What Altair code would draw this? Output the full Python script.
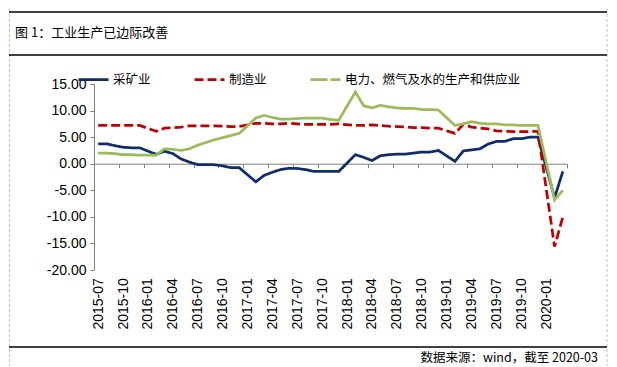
import altair as alt
import pandas as pd

# ---------------- data ----------------
months = [
    "2015-07", "2015-08", "2015-09", "2015-10", "2015-11", "2015-12",
    "2016-01", "2016-02", "2016-03", "2016-04", "2016-05", "2016-06",
    "2016-07", "2016-08", "2016-09", "2016-10", "2016-11", "2016-12",
    "2017-01", "2017-02", "2017-03", "2017-04", "2017-05", "2017-06",
    "2017-07", "2017-08", "2017-09", "2017-10", "2017-11", "2017-12",
    "2018-01", "2018-02", "2018-03", "2018-04", "2018-05", "2018-06",
    "2018-07", "2018-08", "2018-09", "2018-10", "2018-11", "2018-12",
    "2019-01", "2019-02", "2019-03", "2019-04", "2019-05", "2019-06",
    "2019-07", "2019-08", "2019-09", "2019-10", "2019-11", "2019-12",
    "2020-01", "2020-02", "2020-03",
]

mining = [
    3.75, 3.75, 3.4, 3.1, 3.0, 3.0,
    None, 1.75, 2.35, 1.9, 0.9, 0.3,
    -0.15, -0.15, -0.2, -0.4, -0.75, -0.75,
    None, -3.4, -2.2, -1.6, -1.1, -0.85,
    -0.9, -1.1, -1.45, -1.45, -1.45, -1.45,
    None, 1.7, 1.2, 0.6, 1.5, 1.7,
    1.8, 1.8, 2.0, 2.2, 2.2, 2.5,
    None, 0.45, 2.4, 2.6, 2.8, 3.7,
    4.2, 4.2, 4.7, 4.7, 5.0, 5.0,
    None, -6.4, -1.45,
]

manufacturing = [
    7.2, 7.2, 7.2, 7.2, 7.2, 7.2,
    None, 6.1, 6.7, 6.75, 6.9, 7.1,
    7.1, 7.1, 7.1, 7.05, 7.0, 7.0,
    None, 7.6, 7.6, 7.5, 7.5, 7.6,
    7.5, 7.4, 7.4, 7.4, 7.4, 7.5,
    None, 7.2, 7.2, 7.3, 7.2, 7.05,
    7.0, 6.9, 6.8, 6.8, 6.7, 6.7,
    None, 5.7, 7.4, 6.9, 6.7, 6.55,
    6.2, 6.1, 6.05, 6.05, 6.05, 6.1,
    None, -15.6, -10.0,
]

utilities = [
    2.0, 2.0, 1.9, 1.7, 1.7, 1.6,
    None, 1.6, 2.8, 2.7, 2.5, 2.8,
    3.5, 4.0, 4.5, 4.9, 5.3, 5.7,
    None, 8.6, 9.1, 8.7, 8.4, 8.4,
    8.5, 8.6, 8.6, 8.6, 8.3, 8.2,
    None, 13.5, 10.9, 10.5, 11.0, 10.7,
    10.5, 10.4, 10.4, 10.2, 10.2, 10.1,
    None, 7.2, 7.5, 7.9, 7.6, 7.5,
    7.5, 7.3, 7.3, 7.2, 7.2, 7.2,
    None, -6.8, -5.0,
]

series_names = ["采矿业", "制造业", "电力、燃气及水的生产和供应业"]
series_values = [mining, manufacturing, utilities]
series_colors = ["#0f2d6b", "#c00000", "#9bbb59"]
line_dashes = [[1, 0], [9, 4], [1, 0]]
legend_dashes = [[1, 0], [9, 4], [17, 3]]

y_ticks = [-20, -15, -10, -5, 0, 5, 10, 15]
x_tick_labels = months[::3]

title_text = "图 1：工业生产已边际改善"
source_text = "数据来源：wind，截至 2020-03"

rows = []
for name, vals in zip(series_names, series_values):
    for i, (m, v) in enumerate(zip(months, vals)):
        if v is not None:
            rows.append({"idx": i, "month": m, "series": name, "value": v})
df = pd.DataFrame(rows)

# ---------------- layout ----------------
W, H = 473, 186
n = len(months)
num_font = "Liberation Sans"
cjk_font = "Noto Sans CJK SC"

xscale = alt.Scale(domain=[-0.5, n - 0.5], nice=False, zero=False)
yscale = alt.Scale(domain=[-20, 15], nice=False, zero=False)

label_arr = "[" + ",".join("'%s'" % m for m in x_tick_labels) + "]"
x_axis = alt.Axis(
    values=[-0.5 + 3 * k for k in range(len(x_tick_labels) + 1)],
    labelExpr=label_arr + "[round((datum.value + 0.5) / 3)] || ''",
    offset=-H * 20 / 35,
    domainColor="#808080",
    domainWidth=1,
    tickColor="#808080",
    tickSize=4,
    tickWidth=1,
    labelAngle=270,
    labelPadding=110,
    labelOffset=W / n / 2,
    labelFont=num_font,
    labelFontSize=14,
    labelColor="black",
    labelOverlap=False,
    labelFlush=False,
    labelBound=False,
    grid=False,
    title=None,
)
y_axis = alt.Axis(
    values=y_ticks,
    labelExpr="(datum.value < 0 ? '-' : '') + format(abs(datum.value), '.2f')",
    domainColor="#808080",
    domainWidth=1,
    tickColor="#808080",
    tickSize=4,
    tickWidth=1,
    labelPadding=4,
    labelFont=num_font,
    labelFontSize=14,
    labelColor="black",
    grid=False,
    title=None,
)

X = alt.X("idx:Q", scale=xscale, axis=x_axis)
Y = alt.Y("value:Q", scale=yscale, axis=y_axis)

layers = []
for name, color, dash in zip(series_names, series_colors, line_dashes):
    layers.append(
        alt.Chart(df)
        .transform_filter(alt.datum.series == name)
        .mark_line(color=color, strokeWidth=2.75, strokeDash=dash)
        .encode(x=X, y=Y)
    )

legend_params = dict(
    orient="none",
    legendX=-17,
    legendY=-21,
    direction="horizontal",
    title=None,
    symbolType="stroke",
    symbolSize=900,
    symbolStrokeWidth=2.75,
    labelFont=cjk_font,
    labelFontSize=12.5,
    labelColor="black",
    labelOffset=3,
    labelLimit=400,
    columnPadding=38,
)
legend_layer = (
    alt.Chart(df)
    .transform_filter("false")
    .mark_line(strokeWidth=2.75)
    .encode(
        x=X,
        y=Y,
        color=alt.Color(
            "series:N",
            scale=alt.Scale(domain=series_names, range=series_colors),
            legend=alt.Legend(**legend_params),
        ),
        strokeDash=alt.StrokeDash(
            "series:N",
            scale=alt.Scale(domain=series_names, range=legend_dashes),
            legend=alt.Legend(**legend_params),
        ),
    )
)

deco_df = pd.DataFrame({"k": [0]})


def hline(y):
    return (
        alt.Chart(deco_df)
        .mark_rule(color="black", strokeWidth=1.5)
        .encode(x=alt.value(-85), x2=alt.value(513), y=alt.value(y))
    )


def vline(x):
    return (
        alt.Chart(deco_df)
        .mark_rule(color="#c0c0c0", strokeWidth=1, strokeDash=[3, 2])
        .encode(x=alt.value(x), y=alt.value(-75), y2=alt.value(282))
    )


title_mark = (
    alt.Chart(deco_df)
    .mark_text(align="left", baseline="middle", font=cjk_font, fontSize=13, color="black")
    .encode(x=alt.value(-79), y=alt.value(-51), text=alt.value(title_text))
)
source_mark = (
    alt.Chart(deco_df)
    .mark_text(align="right", baseline="middle", font=cjk_font, fontSize=12.5, color="black")
    .encode(x=alt.value(504), y=alt.value(274), text=alt.value(source_text))
)

chart = (
    alt.layer(
        vline(-84.5), vline(513),
        hline(-72), hline(-29), hline(263),
        title_mark, source_mark,
        *layers, legend_layer,
    )
    .properties(width=W, height=H, padding=0, background="white")
    .configure_view(stroke=None)
)

chart.save("out.html", embed_options={"renderer": "svg", "actions": False})
